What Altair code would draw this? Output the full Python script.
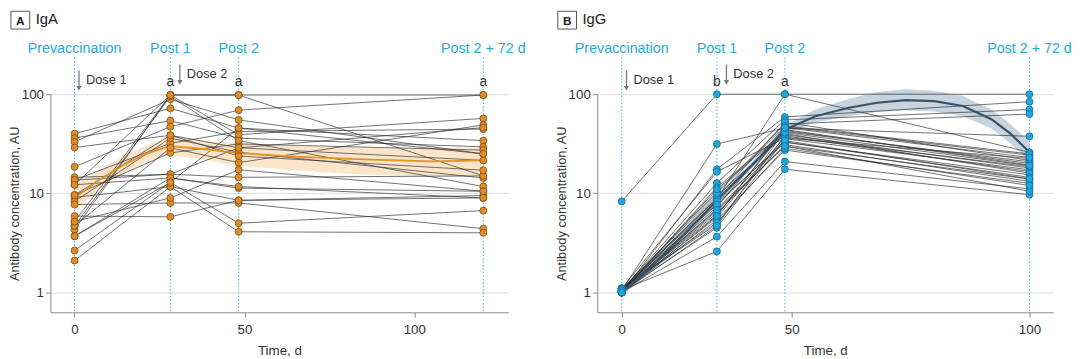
import altair as alt
import pandas as pd

FONT = "Liberation Sans"
BLUE_TXT = "#2aa7de"

# ---------------- Panel A (IgA) ----------------
a_times = [0, 28.2, 48.3, 120.3]
a_pre = [40, 36, 33, 29, 18.5, 14.5, 13.6, 12.2, 9.6, 9.1, 8.3, 7.7, 5.9, 5.2, 4.7,
         4.3, 3.7, 2.65, 2.1, 4.7, 5.2, 9.6, 13.6, 12.2, 3.7]
a_p1 = [72, 54, 89, 38.5, 47, 15.6, 32, 98, 25.6, 11.7, 36, 8.0, 5.8, 98, 95,
        98, 14.3, 12.9, 11.7, 28.8, 9.0, 38.5, 15.6, 14.3, 12.9]
a_p2 = [45.5, 36, 55, 28.8, 69, 14.5, 42, 98, 31.5, 8.5, 26, 8.0, 8.5, 39, 34,
        98, 11.3, 5.0, 4.1, 20.4, 17.3, 23.8, 28.8, 11.7, 45.5]
a_p72 = [34, 29.4, 25, 21.5, 98, 15, 44.5, 98, 27.3, 9.5, 14.3, 4.4, 9.0, 57, 11.7,
         15, 10.5, 6.7, 4.0, 49, 10.5, 17.1, 46, 9.0, 25]

a_fit_t = [0, 7, 14, 21, 28, 38, 48, 65, 85, 105, 120.3]
a_fit_v = [9.0, 13.5, 19, 25, 30, 28, 25.5, 23.5, 22, 21, 21.5]
a_fit_lo = [6.8, 10.5, 15.5, 21, 24.5, 22, 19, 17, 15.5, 14.8, 15]
a_fit_hi = [12.0, 17, 23.5, 30, 38, 34, 32, 30, 29, 28, 29]

# ---------------- Panel B (IgG) ----------------
b_times = [0, 28, 48, 100]
b_pre = [8.3, 1.05, 1.0, 1.1, 1.05, 1.0, 1.08, 1.02, 1.1, 1.0, 1.05, 1.03, 1.07, 1.0, 1.1,
         1.04, 1.0, 1.06, 1.02, 1.09, 1.0, 1.05, 1.03, 1.1, 1.0, 1.06, 1.02, 1.08, 1.04, 1.0]
b_p1 = [100, 31.5, 17.5, 16.5, 12.7, 11.5, 10.4, 9.5, 8.8, 8.0, 7.3, 6.6, 6.0, 5.4, 4.9,
        4.5, 3.66, 2.6, 9.0, 8.3, 7.0, 6.3, 5.7, 5.1, 4.7, 10.0, 11.0, 7.7, 6.8, 5.9]
b_p2 = [100, 45.5, 59, 36, 55, 42, 50, 39, 100, 32.7, 47, 29.9, 44, 27.3, 38,
        35.6, 20.9, 17.5, 52, 40, 33, 31, 37, 28.5, 43, 48, 41, 34, 30, 46]
b_p72 = [100, 37.6, 84, 22.5, 70, 20.8, 63, 18, 26, 15.4, 24.3, 13.9, 19.3, 12.6, 16.6,
         17.3, 11.1, 9.7, 21.5, 16, 14.5, 13.2, 18.6, 12, 20, 25, 19, 14, 10.5, 23]

b_fit_t = [0, 10, 20, 28, 36, 42, 48, 55, 62, 68, 74, 80, 86, 92, 96, 100]
b_fit_v = [1.0, 2.0, 4.4, 8.5, 16, 26, 44, 60, 73, 82, 87, 85, 76, 56, 40, 26]
b_fit_lo = [0.92, 1.8, 4.0, 7.8, 14.8, 24, 40, 52, 60, 66, 69, 67, 60, 45, 32, 21]
b_fit_hi = [1.1, 2.2, 4.9, 9.3, 17.3, 28, 48, 70, 90, 105, 112, 108, 96, 70, 50, 33]

stage_labels = ["Prevaccination", "Post 1", "Post 2", "Post 2 + 72 d"]
a_sig = ["a", "a", "a"]
b_sig = ["b", "a"]
dose_labels = ["Dose 1", "Dose 2"]
a_dose_times = [1.3, 31.0]
b_dose_times = [1.4, 30.8]


def long_df(times, cols):
    rows = []
    for i in range(len(cols[0])):
        for t, col in zip(times, cols):
            rows.append({"id": i, "t": t, "v": col[i]})
    return pd.DataFrame(rows)


def panel(letter, name, times, cols, fit_t, fit_v, fit_lo, fit_hi, sig, dose_times,
          xscale, width, pt_fill, pt_stroke, fit_color, band_color, band_opacity, fit_w):
    height = 221
    xaxis = alt.Axis(values=[0, 50, 100], grid=False, title="Time, d", domainColor="#8a8a8a",
                     tickColor="#8a8a8a", tickSize=5, labelFontSize=13.5, titleFontSize=13.5,
                     labelColor="#333", titleColor="#333", labelPadding=5, titlePadding=8,
                     titleFontWeight="normal", labelFont=FONT, titleFont=FONT)
    yaxis = alt.Axis(values=[1, 10, 100], format="d", grid=True, gridColor="#dadada",
                     title="Antibody concentration, AU", domainColor="#8a8a8a",
                     tickColor="#8a8a8a", tickSize=5, labelFontSize=13.5, titleFontSize=13,
                     labelColor="#333", titleColor="#333", labelPadding=2, titlePadding=0,
                     titleFontWeight="normal", labelFont=FONT, titleFont=FONT)
    yscale = alt.Scale(type="log", domain=[0.632, 100], nice=False)
    X = alt.X("t:Q", scale=xscale, axis=xaxis)

    subj = long_df(times, cols)
    fit = pd.DataFrame({"t": fit_t, "v": fit_v, "lo": fit_lo, "hi": fit_hi})
    stages = pd.DataFrame({"t": times, "label": stage_labels})
    sigdf = pd.DataFrame({"t": times[1:1 + len(sig)], "label": sig})
    one = pd.DataFrame({"k": [0]})

    vlines = alt.Chart(stages).mark_rule(color="#3fb0e3", strokeDash=[1.5, 2], strokeWidth=1).encode(
        x=X, y=alt.value(-37), y2=alt.value(height))
    band = alt.Chart(fit).mark_area(color=band_color, opacity=band_opacity).encode(
        x=X, y=alt.Y("lo:Q", scale=yscale, axis=yaxis), y2="hi:Q")
    lines = alt.Chart(subj).mark_line(color="#2e2e2e", strokeWidth=0.8, opacity=0.85).encode(
        x=X, y=alt.Y("v:Q", scale=yscale, axis=yaxis), detail="id:N")
    fitline = alt.Chart(fit).mark_line(color=fit_color, strokeWidth=fit_w).encode(
        x=X, y=alt.Y("v:Q", scale=yscale, axis=yaxis))
    points = alt.Chart(subj).mark_point(filled=True, fill=pt_fill, stroke=pt_stroke,
                                        strokeWidth=0.8, size=50, opacity=1).encode(
        x=X, y=alt.Y("v:Q", scale=yscale, axis=yaxis))
    stage_txt = alt.Chart(stages).mark_text(color=BLUE_TXT, fontSize=14.5, font=FONT,
                                            baseline="alphabetic").encode(
        x=X, y=alt.value(-42), text="label:N")
    sig_txt = alt.Chart(sigdf).mark_text(color="#333", fontSize=14, font=FONT,
                                         baseline="alphabetic").encode(
        x=X, y=alt.value(-8), text="label:N")

    layers = [vlines, band, lines, fitline, points, stage_txt, sig_txt]

    # dose arrows
    specs = [(-24, -7, -6, -10.5), (-30, -13, -12, -16)]
    for dt, lab, (y1, y2, yh, ytxt) in zip(dose_times, dose_labels, specs):
        ddf = pd.DataFrame({"t": [dt], "label": [lab]})
        layers.append(alt.Chart(ddf).mark_rule(color="#777", strokeWidth=1.3).encode(
            x=X, y=alt.value(y1), y2=alt.value(y2)))
        layers.append(alt.Chart(ddf).mark_point(shape="triangle-down", filled=True, color="#777",
                                                size=30, opacity=1).encode(
            x=X, y=alt.value(yh)))
        layers.append(alt.Chart(ddf).mark_text(color="#333", fontSize=13, font=FONT, align="left",
                                               baseline="alphabetic", dx=7).encode(
            x=X, y=alt.value(ytxt), text="label:N"))

    # panel label box
    layers.append(alt.Chart(one).mark_rect(fill="white", stroke="#555", strokeWidth=1).encode(
        x=alt.value(-40), x2=alt.value(-21), y=alt.value(-84), y2=alt.value(-66)))
    layers.append(alt.Chart(one).mark_text(text=letter, fontSize=12, font=FONT, fontWeight="bold",
                                           color="#222", baseline="alphabetic").encode(
        x=alt.value(-30.5), y=alt.value(-70.5)))
    layers.append(alt.Chart(one).mark_text(text=name, fontSize=15, font=FONT, color="#222",
                                           align="left", baseline="alphabetic").encode(
        x=alt.value(-15), y=alt.value(-71)))

    return alt.layer(*layers).properties(width=width, height=height)


pa = panel("A", "IgA", a_times, [a_pre, a_p1, a_p2, a_p72], a_fit_t, a_fit_v, a_fit_lo, a_fit_hi,
           a_sig, a_dose_times, alt.Scale(domain=[-7.1, 127.7], nice=False, zero=False), 464,
           "#e08c2a", "#7d4c12", "#e8901f", "#f7d3a8", 0.6, 1.8)
pb = panel("B", "IgG", b_times, [b_pre, b_p1, b_p2, b_p72], b_fit_t, b_fit_v, b_fit_lo, b_fit_hi,
           b_sig, b_dose_times,
           alt.Scale(domain=[-7.2, 50, 105], range=[0, 197, 462], nice=False, zero=False), 462,
           "#22a6dc", "#0b6d99", "#3a5266", "#b3c6d4", 0.75, 2.2)

chart = alt.hconcat(pa, pb, spacing=90, bounds="flush").properties(
    padding={"left": 0, "top": 0, "right": 0, "bottom": 0}
).configure(font=FONT).configure_view(stroke=None)

chart.save("out.html", embed_options={"renderer": "svg", "actions": False})
